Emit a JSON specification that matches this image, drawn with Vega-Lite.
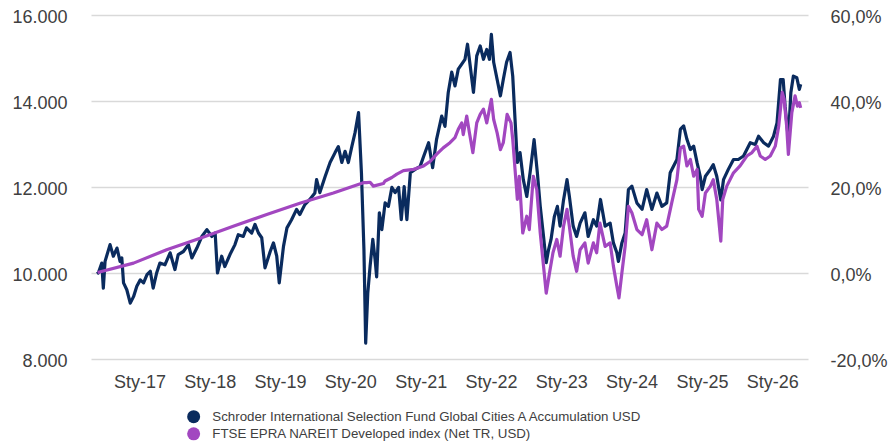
{
  "$schema": "https://vega.github.io/schema/vega-lite/v6.json",
  "width": 717,
  "height": 344,
  "autosize": {"type": "none"},
  "padding": {"left": 91, "top": 15, "right": 85, "bottom": 85},
  "background": "white",
  "config": {"view": {"stroke": null}, "font": "Liberation Sans"},
  "datasets": {
    "fund": [
      {"date":"2016-05-28","value":10040},{"date":"2016-06-01","value":10000},{"date":"2016-06-19","value":10230},{"date":"2016-06-27","value":9650},{"date":"2016-07-06","value":10270},{"date":"2016-08-01","value":10660},{"date":"2016-08-18","value":10390},{"date":"2016-09-06","value":10580},{"date":"2016-09-22","value":10270},{"date":"2016-10-01","value":10350},{"date":"2016-10-10","value":9770},{"date":"2016-10-27","value":9610},{"date":"2016-11-14","value":9300},{"date":"2016-12-01","value":9450},{"date":"2016-12-18","value":9690},
      {"date":"2017-01-05","value":9840},{"date":"2017-01-22","value":9770},{"date":"2017-02-09","value":9960},{"date":"2017-02-26","value":10040},{"date":"2017-03-13","value":9650},{"date":"2017-03-31","value":10000},{"date":"2017-04-17","value":10230},{"date":"2017-05-13","value":10190},{"date":"2017-06-09","value":10470},{"date":"2017-07-04","value":10080},{"date":"2017-07-21","value":10430},{"date":"2017-08-17","value":10500},{"date":"2017-09-12","value":10660},{"date":"2017-09-30","value":10350},{"date":"2017-10-26","value":10580},{"date":"2017-11-21","value":10850},{"date":"2017-12-17","value":11010},
      {"date":"2018-01-12","value":10850},{"date":"2018-01-29","value":10930},{"date":"2018-02-10","value":10000},{"date":"2018-03-04","value":10390},{"date":"2018-03-20","value":10150},{"date":"2018-04-16","value":10430},{"date":"2018-05-12","value":10660},{"date":"2018-05-29","value":10890},{"date":"2018-06-24","value":10850},{"date":"2018-07-11","value":11050},{"date":"2018-08-07","value":10930},{"date":"2018-08-24","value":11130},{"date":"2018-09-11","value":10930},{"date":"2018-09-28","value":10820},{"date":"2018-10-15","value":10120},{"date":"2018-11-11","value":10500},{"date":"2018-11-28","value":10700},{"date":"2018-12-15","value":10390},{"date":"2018-12-28","value":9770},
      {"date":"2019-01-19","value":10620},{"date":"2019-02-06","value":11050},{"date":"2019-03-02","value":11240},{"date":"2019-03-28","value":11480},{"date":"2019-04-14","value":11360},{"date":"2019-05-10","value":11590},{"date":"2019-06-05","value":11710},{"date":"2019-07-01","value":11860},{"date":"2019-07-10","value":12170},{"date":"2019-07-27","value":11870},{"date":"2019-08-23","value":12240},{"date":"2019-09-18","value":12570},{"date":"2019-10-14","value":12800},{"date":"2019-10-31","value":12940},{"date":"2019-11-18","value":12570},{"date":"2019-12-05","value":12830},{"date":"2019-12-22","value":12570},
      {"date":"2020-01-09","value":12940},{"date":"2020-01-26","value":13270},{"date":"2020-02-13","value":13730},{"date":"2020-02-28","value":12330},{"date":"2020-03-12","value":10540},{"date":"2020-03-21","value":8370},{"date":"2020-04-01","value":9540},{"date":"2020-04-13","value":10160},{"date":"2020-04-27","value":10780},{"date":"2020-05-09","value":10310},{"date":"2020-05-17","value":9910},{"date":"2020-05-31","value":11400},{"date":"2020-06-13","value":11010},{"date":"2020-06-30","value":11630},{"date":"2020-07-17","value":11550},{"date":"2020-08-04","value":11990},{"date":"2020-08-21","value":11870},{"date":"2020-09-08","value":11990},{"date":"2020-09-22","value":11240},{"date":"2020-10-07","value":12010},{"date":"2020-10-21","value":11240},{"date":"2020-11-08","value":12330},{"date":"2020-12-03","value":12410},{"date":"2020-12-29","value":12480},
      {"date":"2021-01-16","value":12710},{"date":"2021-02-11","value":13030},{"date":"2021-03-04","value":12450},{"date":"2021-03-24","value":13100},{"date":"2021-04-20","value":13650},{"date":"2021-05-07","value":13410},{"date":"2021-05-24","value":14200},{"date":"2021-06-11","value":14670},{"date":"2021-06-28","value":14350},{"date":"2021-07-15","value":14740},{"date":"2021-08-02","value":14860},{"date":"2021-08-19","value":14970},{"date":"2021-09-01","value":15320},{"date":"2021-09-15","value":14820},{"date":"2021-10-02","value":14200},{"date":"2021-10-19","value":15050},{"date":"2021-11-06","value":15280},{"date":"2021-11-23","value":14970},{"date":"2021-12-10","value":15200},{"date":"2021-12-24","value":14970},
      {"date":"2022-01-03","value":15550},{"date":"2022-01-15","value":14900},{"date":"2022-02-02","value":14500},{"date":"2022-02-19","value":14120},{"date":"2022-03-06","value":14500},{"date":"2022-03-23","value":14900},{"date":"2022-04-10","value":15130},{"date":"2022-04-24","value":14580},{"date":"2022-05-06","value":13570},{"date":"2022-05-18","value":12570},{"date":"2022-06-01","value":12800},{"date":"2022-06-18","value":12170},{"date":"2022-07-06","value":11780},{"date":"2022-07-23","value":12330},{"date":"2022-08-13","value":13100},{"date":"2022-08-30","value":12330},{"date":"2022-09-14","value":11550},{"date":"2022-10-01","value":10850},{"date":"2022-10-15","value":10240},{"date":"2022-10-27","value":10540},{"date":"2022-11-09","value":10780},{"date":"2022-11-26","value":11310},{"date":"2022-12-12","value":11550},{"date":"2022-12-26","value":11090},
      {"date":"2023-01-13","value":11700},{"date":"2023-01-31","value":12170},{"date":"2023-02-12","value":11790},{"date":"2023-03-04","value":11090},{"date":"2023-03-22","value":10850},{"date":"2023-04-09","value":11160},{"date":"2023-05-04","value":11400},{"date":"2023-05-21","value":10850},{"date":"2023-06-17","value":11240},{"date":"2023-07-04","value":11090},{"date":"2023-07-24","value":11710},{"date":"2023-08-17","value":11090},{"date":"2023-09-12","value":11160},{"date":"2023-09-29","value":10700},{"date":"2023-10-17","value":10470},{"date":"2023-10-25","value":10270},{"date":"2023-11-12","value":10700},{"date":"2023-11-29","value":10930},{"date":"2023-12-16","value":11940},
      {"date":"2024-01-03","value":12020},{"date":"2024-01-29","value":11630},{"date":"2024-02-25","value":11480},{"date":"2024-03-20","value":11940},{"date":"2024-04-16","value":11480},{"date":"2024-05-12","value":11860},{"date":"2024-06-07","value":11550},{"date":"2024-07-02","value":11630},{"date":"2024-07-20","value":12330},{"date":"2024-08-24","value":12640},{"date":"2024-09-11","value":13340},{"date":"2024-09-19","value":13380},{"date":"2024-09-28","value":13420},{"date":"2024-10-15","value":13110},{"date":"2024-11-02","value":12870},{"date":"2024-11-19","value":12950},{"date":"2024-12-07","value":12560},{"date":"2024-12-23","value":12250},
      {"date":"2025-01-02","value":11940},{"date":"2025-01-19","value":12250},{"date":"2025-02-14","value":12410},{"date":"2025-03-01","value":12520},{"date":"2025-03-19","value":12250},{"date":"2025-04-09","value":11700},{"date":"2025-04-23","value":12170},{"date":"2025-05-18","value":12410},{"date":"2025-06-14","value":12640},{"date":"2025-07-09","value":12640},{"date":"2025-08-05","value":12720},{"date":"2025-09-09","value":13030},{"date":"2025-10-05","value":12990},{"date":"2025-10-22","value":13180},{"date":"2025-11-18","value":13030},{"date":"2025-12-13","value":12950},
      {"date":"2026-01-08","value":13180},{"date":"2026-01-26","value":13490},{"date":"2026-02-13","value":14500},{"date":"2026-02-27","value":14500},{"date":"2026-03-09","value":13880},{"date":"2026-03-26","value":13110},{"date":"2026-04-08","value":14200},{"date":"2026-04-21","value":14580},{"date":"2026-05-09","value":14540},{"date":"2026-05-22","value":14270},{"date":"2026-05-29","value":14390}
    ],
    "index": [
      {"date":"2016-05-28","value":10010},{"date":"2016-12-01","value":10230},{"date":"2017-05-22","value":10540},{"date":"2017-11-12","value":10810},{"date":"2018-05-03","value":11090},{"date":"2018-10-24","value":11360},{"date":"2019-04-14","value":11620},{"date":"2019-10-05","value":11860},{"date":"2020-03-09","value":12100},{"date":"2020-03-26","value":12100},{"date":"2020-04-13","value":12110},{"date":"2020-04-30","value":12020},{"date":"2020-06-21","value":12080},{"date":"2020-06-30","value":12140},{"date":"2020-08-04","value":12220},{"date":"2020-08-30","value":12300},{"date":"2020-10-03","value":12380},{"date":"2020-11-25","value":12410},
      {"date":"2021-01-16","value":12490},{"date":"2021-02-20","value":12600},{"date":"2021-03-24","value":12760},{"date":"2021-04-28","value":12910},{"date":"2021-06-02","value":13030},{"date":"2021-06-28","value":13150},{"date":"2021-07-15","value":13340},{"date":"2021-08-02","value":13490},{"date":"2021-08-10","value":13220},{"date":"2021-08-28","value":13650},{"date":"2021-09-11","value":13260},{"date":"2021-09-29","value":12800},{"date":"2021-10-19","value":13490},{"date":"2021-11-06","value":13690},{"date":"2021-11-23","value":13810},{"date":"2021-12-10","value":13490},
      {"date":"2022-01-03","value":14040},{"date":"2022-01-15","value":13570},{"date":"2022-02-02","value":13260},{"date":"2022-02-19","value":12870},{"date":"2022-03-06","value":13030},{"date":"2022-03-26","value":13690},{"date":"2022-04-15","value":13490},{"date":"2022-04-24","value":13110},{"date":"2022-05-06","value":12410},{"date":"2022-05-18","value":11710},{"date":"2022-05-28","value":12250},{"date":"2022-06-15","value":10930},{"date":"2022-07-06","value":11320},{"date":"2022-07-19","value":11010},{"date":"2022-08-09","value":12250},{"date":"2022-08-27","value":11940},{"date":"2022-09-14","value":10930},{"date":"2022-10-01","value":10160},{"date":"2022-10-15","value":9530},{"date":"2022-11-01","value":10000},{"date":"2022-11-19","value":10470},{"date":"2022-12-09","value":10780},{"date":"2022-12-26","value":10390},
      {"date":"2023-01-13","value":11090},{"date":"2023-01-31","value":11480},{"date":"2023-02-12","value":11090},{"date":"2023-03-04","value":10390},{"date":"2023-03-22","value":10040},{"date":"2023-04-09","value":10540},{"date":"2023-05-04","value":10700},{"date":"2023-05-21","value":10230},{"date":"2023-06-17","value":10700},{"date":"2023-07-04","value":10470},{"date":"2023-07-21","value":11160},{"date":"2023-08-17","value":10620},{"date":"2023-09-12","value":10700},{"date":"2023-09-29","value":10160},{"date":"2023-10-17","value":9690},{"date":"2023-10-28","value":9420},{"date":"2023-11-12","value":10000},{"date":"2023-11-29","value":10620},{"date":"2023-12-16","value":11550},
      {"date":"2024-01-03","value":11400},{"date":"2024-01-29","value":11010},{"date":"2024-02-25","value":10890},{"date":"2024-03-20","value":11240},{"date":"2024-04-16","value":10540},{"date":"2024-05-12","value":11160},{"date":"2024-06-07","value":11010},{"date":"2024-07-02","value":11090},{"date":"2024-07-28","value":11630},{"date":"2024-08-24","value":12170},{"date":"2024-09-11","value":12910},{"date":"2024-09-28","value":12950},{"date":"2024-10-15","value":12490},{"date":"2024-11-02","value":12640},{"date":"2024-11-19","value":12250},{"date":"2024-12-07","value":12410},{"date":"2024-12-15","value":11480},
      {"date":"2025-01-02","value":11320},{"date":"2025-01-19","value":11860},{"date":"2025-02-14","value":12020},{"date":"2025-03-01","value":12170},{"date":"2025-03-19","value":11710},{"date":"2025-04-09","value":10740},{"date":"2025-04-19","value":11710},{"date":"2025-05-10","value":12020},{"date":"2025-06-14","value":12330},{"date":"2025-07-18","value":12490},{"date":"2025-08-22","value":12720},{"date":"2025-09-18","value":12800},{"date":"2025-10-14","value":12950},{"date":"2025-10-31","value":12720},{"date":"2025-11-26","value":12640},{"date":"2025-12-22","value":12720},
      {"date":"2026-01-17","value":12950},{"date":"2026-02-04","value":13420},{"date":"2026-02-22","value":14200},{"date":"2026-03-04","value":14040},{"date":"2026-03-17","value":13420},{"date":"2026-03-26","value":12760},{"date":"2026-04-13","value":13730},{"date":"2026-04-30","value":14120},{"date":"2026-05-12","value":13880},{"date":"2026-05-22","value":13960},{"date":"2026-05-29","value":13840}
    ]
  },
  "layer": [
    {
      "data": {"name": "fund"},
      "mark": {"type": "line", "strokeWidth": 3.2, "strokeJoin": "round"},
      "encoding": {
        "x": {
          "field": "date", "type": "temporal",
          "scale": {"type": "utc", "domain": [{"year": 2016, "month": 4, "date": 24, "utc": true}, {"year": 2026, "month": 7, "date": 6, "utc": true}]},
          "axis": {
            "title": null, "domain": false, "ticks": false, "grid": false,
            "values": [
              {"year": 2017, "month": 1, "date": 1, "utc": true}, {"year": 2018, "month": 1, "date": 1, "utc": true},
              {"year": 2019, "month": 1, "date": 1, "utc": true}, {"year": 2020, "month": 1, "date": 1, "utc": true},
              {"year": 2021, "month": 1, "date": 1, "utc": true}, {"year": 2022, "month": 1, "date": 1, "utc": true},
              {"year": 2023, "month": 1, "date": 1, "utc": true}, {"year": 2024, "month": 1, "date": 1, "utc": true},
              {"year": 2025, "month": 1, "date": 1, "utc": true}, {"year": 2026, "month": 1, "date": 1, "utc": true}
            ],
            "labelExpr": "'Sty-' + utcFormat(datum.value, '%y')",
            "labelFontSize": 18, "labelColor": "#404040", "labelPadding": 14, "labelOverlap": false
          }
        },
        "y": {
          "field": "value", "type": "quantitative",
          "scale": {"domain": [8000, 16000], "nice": false, "zero": false},
          "axis": {
            "orient": "left", "title": null, "domain": false, "ticks": false,
            "values": [8000, 10000, 12000, 14000, 16000],
            "labelExpr": "replace(format(datum.value, ','), ',', '.')",
            "grid": true, "gridColor": "#d9d9d9", "gridWidth": 1.5,
            "labelFontSize": 18, "labelColor": "#404040", "labelPadding": 24, "labelOffset": 2
          }
        },
        "color": {
          "datum": "Schroder International Selection Fund Global Cities A Accumulation USD",
          "type": "nominal",
          "scale": {
            "domain": ["Schroder International Selection Fund Global Cities A Accumulation USD", "FTSE EPRA NAREIT Developed index (Net TR, USD)"],
            "range": ["#0a2b5e", "#a247c0"]
          },
          "legend": {
            "title": null, "orient": "none", "legendX": 96, "legendY": 395, "direction": "vertical",
            "symbolType": "circle", "symbolSize": 169, "symbolStrokeWidth": 0,
            "labelFontSize": 13.3, "labelColor": "#404040", "labelLimit": 700, "rowPadding": 2.2, "labelOffset": 12,
            "encode": {"symbols": {"update": {"fill": {"scale": "color", "field": "value"}, "opacity": {"value": 1}}}}
          }
        }
      }
    },
    {
      "data": {"name": "index"},
      "mark": {"type": "line", "strokeWidth": 3.2, "strokeJoin": "round"},
      "encoding": {
        "x": {"field": "date", "type": "temporal"},
        "y": {
          "field": "value", "type": "quantitative",
          "axis": {
            "orient": "right", "title": null, "domain": false, "ticks": false, "grid": false,
            "values": [8000, 10000, 12000, 14000, 16000],
            "labelExpr": "replace(replace(format(datum.value / 10000 - 1, '.1%'), '.', ','), '\u2212', '-')",
            "labelFontSize": 18, "labelColor": "#404040", "labelPadding": 22, "labelOffset": 2
          }
        },
        "color": {"datum": "FTSE EPRA NAREIT Developed index (Net TR, USD)", "type": "nominal"}
      }
    }
  ],
  "resolve": {"axis": {"y": "independent"}}
}
